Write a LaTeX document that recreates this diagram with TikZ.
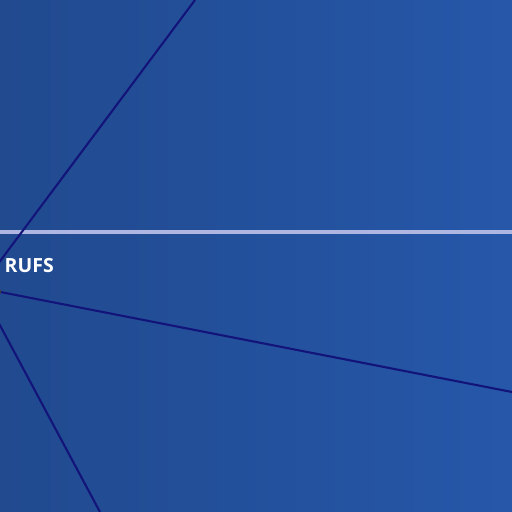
\documentclass[tikz,border=0pt]{standalone}
\usepackage{fontspec}
\setmainfont{Open Sans}
\definecolor{bgleft}{HTML}{214A8F}
\definecolor{bgright}{HTML}{2657A9}
\definecolor{edgenavy}{HTML}{13147A}
\definecolor{rulelav}{HTML}{B0B6E2}
\tikzset{
  link/.style={draw=edgenavy, line width=2.1pt},
  label/.style={text=white, font=\bfseries\fontsize{19.5}{21}\selectfont, inner sep=0pt, anchor=west}
}
\begin{document}
\begin{tikzpicture}[x=1pt,y=-1pt]
\useasboundingbox (0,0) rectangle (512,512);
\clip (0,0) rectangle (512,512);
\shade[left color=bgleft, right color=bgright] (0,0) rectangle (512,512);
\draw[draw=rulelav, line width=3.2pt] (0,232) -- (512,232);
\coordinate (hub) at (-20,288);
\coordinate (top) at (195,0);
\coordinate (right) at (512,392);
\coordinate (bottom) at (100,512);
\draw[link] (hub) -- (top);
\draw[link] (hub) -- (right);
\draw[link] (hub) -- (bottom);
\fill[black!75] (-1,291.5) circle (2.2);
\node[label] (rufs) at (4.5,266) {RUFS};
\end{tikzpicture}
\end{document}
